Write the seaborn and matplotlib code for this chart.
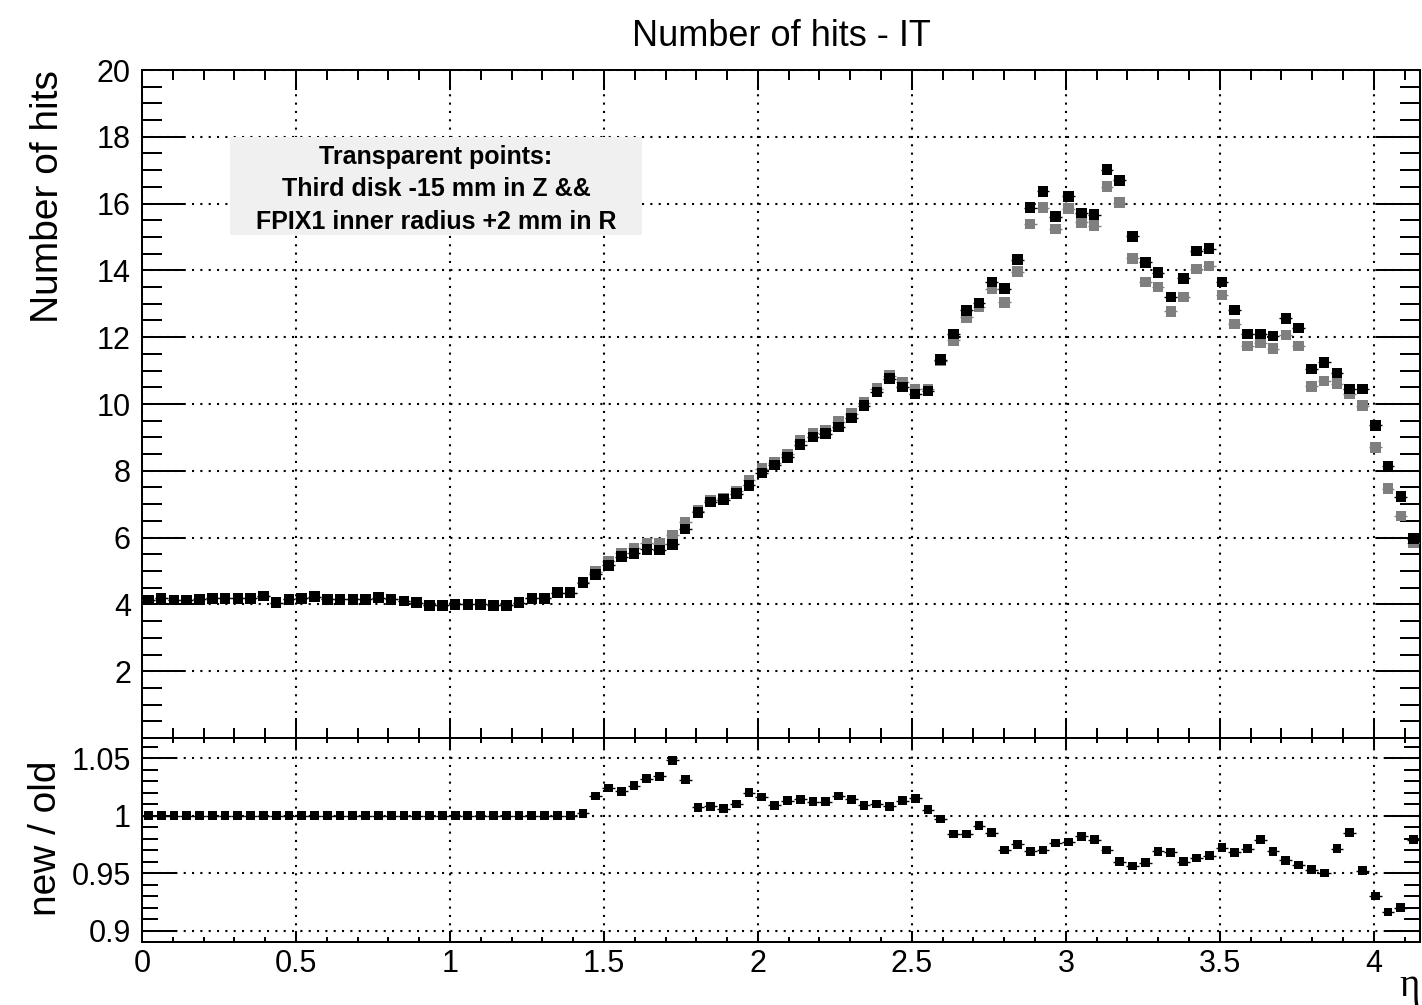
import numpy as np
import pandas as pd
import matplotlib
matplotlib.use("Agg")
import matplotlib.pyplot as plt
from matplotlib.patches import Rectangle
from matplotlib.ticker import MultipleLocator, FixedLocator, FixedFormatter
import seaborn as sns

# Binning in pseudorapidity
eta_min, eta_max, n_bins = 0.0, 4.15, 100

# Mean number of hits per bin, reference geometry (opaque points)
old_hits = [
    4.13, 4.18, 4.13, 4.13, 4.15, 4.18, 4.18, 4.18, 4.18, 4.25,
    4.05, 4.15, 4.18, 4.23, 4.15, 4.15, 4.15, 4.15, 4.20, 4.15,
    4.10, 4.05, 3.97, 3.97, 4.00, 4.00, 4.00, 3.97, 3.97, 4.05,
    4.18, 4.18, 4.35, 4.35, 4.65, 4.90, 5.17, 5.43, 5.53, 5.65,
    5.63, 5.80, 6.26, 6.76, 7.06, 7.14, 7.32, 7.56, 7.94, 8.17,
    8.40, 8.78, 9.01, 9.11, 9.31, 9.58, 9.95, 10.36, 10.76, 10.51,
    10.30, 10.39, 11.33, 12.10, 12.80, 13.03, 13.65, 13.45, 14.32, 15.88,
    16.37, 15.61, 16.22, 15.72, 15.67, 17.02, 16.70, 15.02, 14.24, 13.93,
    13.20, 13.76, 14.58, 14.65, 13.65, 12.81, 12.09, 12.09, 12.03, 12.56,
    12.27, 11.05, 11.25, 10.93, 10.45, 10.45, 9.36, 8.15, 7.23, 5.97,
]

# new / old per bin
ratio_new_old = [
    1.000, 1.000, 1.000, 1.000, 1.000, 1.000, 1.000, 1.000, 1.000, 1.000,
    1.000, 1.000, 1.000, 1.000, 1.000, 1.000, 1.000, 1.000, 1.000, 1.000,
    1.000, 1.000, 1.000, 1.000, 1.000, 1.000, 1.000, 1.000, 1.000, 1.000,
    1.000, 1.000, 1.000, 1.000, 1.002, 1.017, 1.024, 1.021, 1.026, 1.032,
    1.034, 1.048, 1.031, 1.007, 1.008, 1.006, 1.010, 1.020, 1.016, 1.009,
    1.013, 1.014, 1.012, 1.012, 1.017, 1.014, 1.009, 1.010, 1.008, 1.013,
    1.015, 1.005, 0.997, 0.984, 0.984, 0.991, 0.985, 0.970, 0.975, 0.969,
    0.970, 0.976, 0.977, 0.982, 0.979, 0.970, 0.960, 0.956, 0.959, 0.969,
    0.968, 0.960, 0.963, 0.965, 0.972, 0.968, 0.971, 0.979, 0.969, 0.961,
    0.957, 0.953, 0.950, 0.971, 0.985, 0.952, 0.930, 0.916, 0.920, 0.979,
]

hits_ticks = [2, 4, 6, 8, 10, 12, 14, 16, 18, 20]
ratio_ticks = [0.9, 0.95, 1.0, 1.05]
ratio_tick_labels = ["0.9", "0.95", "1", "1.05"]
eta_ticks = [0, 0.5, 1, 1.5, 2, 2.5, 3, 3.5, 4]
eta_tick_labels = ["0", "0.5", "1", "1.5", "2", "2.5", "3", "3.5", "4"]

legend_lines = ["Transparent points:",
                "Third disk -15 mm in Z &&",
                "FPIX1 inner radius +2 mm in R"]

edges = np.linspace(eta_min, eta_max, n_bins + 1)
centers = 0.5 * (edges[:-1] + edges[1:])
half_width = 0.5 * (edges[1] - edges[0])

df = pd.DataFrame({"eta": centers, "old": old_hits, "ratio": ratio_new_old})
df["new"] = df["old"] * df["ratio"]

sns.set_style("white")
plt.rcParams["font.family"] = ["Liberation Sans", "DejaVu Sans"]
for key in ("text.color", "axes.labelcolor", "xtick.color", "ytick.color",
            "axes.edgecolor"):
    plt.rcParams[key] = "black"

W, H = 1422, 1005
fig = plt.figure(figsize=(W / 100, H / 100), dpi=100)
left, right = 142, 1420
ax_top = fig.add_axes([left / W, 1 - 738 / H, (right - left) / W, (738 - 70) / H])
ax_bot = fig.add_axes([left / W, 1 - 942 / H, (right - left) / W, (942 - 738) / H])

grey = "#7f7f7f"
dot_style = dict(linestyle=(0, (1, 3)), linewidth=1.5, color="black")

# ---- upper panel: hits vs eta
ax_top.errorbar(df["eta"], df["new"], xerr=half_width, fmt="none",
                ecolor=grey, elinewidth=1.0, zorder=3)
sns.scatterplot(data=df, x="eta", y="new", marker="s", s=58, color=grey,
                edgecolor="none", linewidth=0, ax=ax_top, zorder=4)
ax_top.errorbar(df["eta"], df["old"], xerr=half_width, fmt="none",
                ecolor="black", elinewidth=1.0, zorder=5)
sns.scatterplot(data=df, x="eta", y="old", marker="s", s=58, color="black",
                edgecolor="none", linewidth=0, ax=ax_top, zorder=6)

ax_top.set_xlim(eta_min, eta_max)
ax_top.set_ylim(0, 20)
ax_top.yaxis.set_major_locator(FixedLocator(hits_ticks))
ax_top.yaxis.set_minor_locator(MultipleLocator(0.5))
ax_top.xaxis.set_major_locator(FixedLocator(eta_ticks))
ax_top.xaxis.set_minor_locator(MultipleLocator(0.1))
ax_top.grid(True, which="major", **dot_style)
ax_top.set_axisbelow(True)
ax_top.tick_params(axis="y", which="major", direction="in", left=True, right=True,
                   length=31, width=1.44, labelsize=22, pad=8, colors="black")
ax_top.tick_params(axis="y", which="minor", direction="in", left=True, right=True,
                   length=14.4, width=1.44, colors="black")
ax_top.tick_params(axis="x", which="major", direction="in", bottom=True, top=True,
                   length=14.4, width=1.44, labelbottom=False, colors="black")
ax_top.tick_params(axis="x", which="minor", direction="in", bottom=True, top=True,
                   length=7.2, width=1.44, colors="black")
ax_top.set_xlabel("")
ax_top.set_ylabel("")

# Legend box with the description of the transparent points
ax_top.add_patch(Rectangle((0.286, 15.06), 1.623 - 0.286, 18.0 - 15.06,
                           facecolor="#f0f0f0", edgecolor="none", zorder=2))
for text, yv in zip(legend_lines, [17.40, 16.44, 15.45]):
    ax_top.text(0.955, yv, text, ha="center", va="center", fontsize=18,
                fontweight="bold", color="black", zorder=7)

# ---- lower panel: ratio new / old
ax_bot.errorbar(df["eta"], df["ratio"], xerr=half_width, fmt="none",
                ecolor="black", elinewidth=1.0, zorder=3)
sns.scatterplot(data=df, x="eta", y="ratio", marker="s", s=40, color="black",
                edgecolor="none", linewidth=0, ax=ax_bot, zorder=4)
ax_bot.set_xlim(eta_min, eta_max)
ax_bot.set_ylim(0.89, 1.0674)
ax_bot.yaxis.set_major_locator(FixedLocator(ratio_ticks))
ax_bot.yaxis.set_major_formatter(FixedFormatter(ratio_tick_labels))
ax_bot.yaxis.set_minor_locator(MultipleLocator(0.01))
ax_bot.xaxis.set_major_locator(FixedLocator(eta_ticks))
ax_bot.xaxis.set_major_formatter(FixedFormatter(eta_tick_labels))
ax_bot.xaxis.set_minor_locator(MultipleLocator(0.1))
ax_bot.grid(True, which="major", **dot_style)
ax_bot.set_axisbelow(True)
ax_bot.tick_params(axis="y", which="major", direction="in", left=True, right=True,
                   length=25, width=1.44, labelsize=22, pad=8, colors="black")
ax_bot.tick_params(axis="y", which="minor", direction="in", left=True, right=True,
                   length=11.5, width=1.44, colors="black")
ax_bot.tick_params(axis="x", which="major", direction="in", bottom=True, top=True,
                   length=8, width=1.44, labelsize=22, pad=5, colors="black")
ax_bot.tick_params(axis="x", which="minor", direction="in", bottom=True, top=True,
                   length=3.6, width=1.44, colors="black")
ax_bot.set_xlabel("")
ax_bot.set_ylabel("")

for ax in (ax_top, ax_bot):
    for sp in ax.spines.values():
        sp.set_visible(True)
        sp.set_color("black")
        sp.set_linewidth(1.44)

# ---- titles
fig.text(781 / W, 1 - 36 / H, "Number of hits - IT", ha="center", va="center",
         fontsize=26, color="black")
fig.text(48 / W, 1 - 197 / H, "Number of hits", ha="center", va="center",
         rotation=90, fontsize=28, color="black")
fig.text(46 / W, 1 - 838 / H, "new / old", ha="center", va="center",
         rotation=90, fontsize=28, color="black")
fig.text(1410 / W, 1 - 986 / H, "η", ha="center", va="center", fontsize=28,
         color="black", family=["Liberation Serif", "DejaVu Serif"])

fig.savefig("out.png", dpi=100)
